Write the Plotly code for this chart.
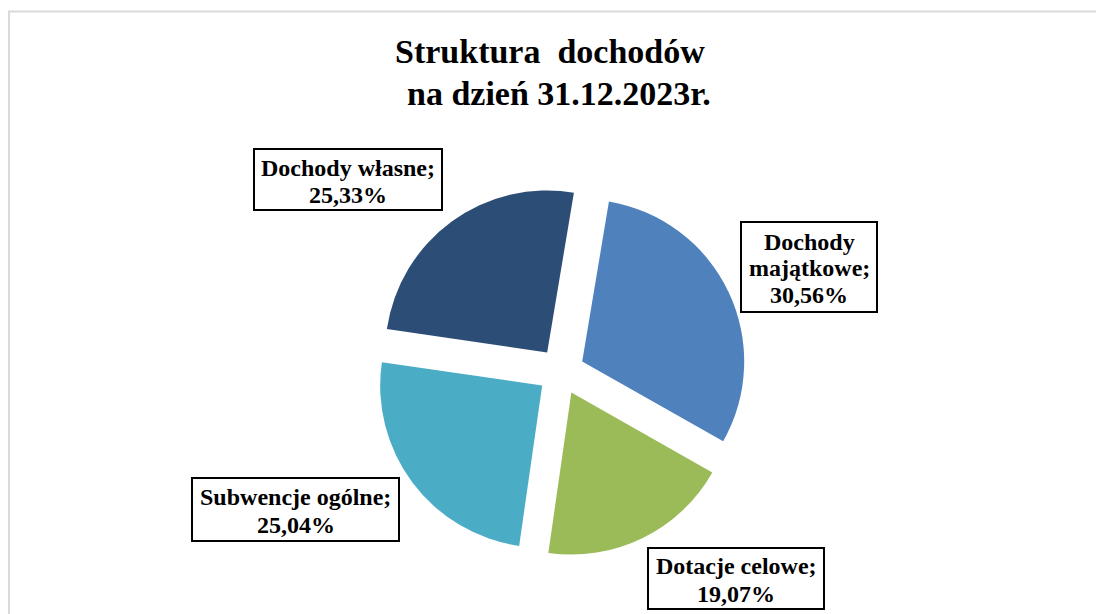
import plotly.graph_objects as go

# Data
categories = ["Dochody majątkowe", "Dotacje celowe", "Subwencje ogólne", "Dochody własne"]
label_lines = [["Dochody", "majątkowe;"], ["Dotacje celowe;"], ["Subwencje ogólne;"], ["Dochody własne;"]]
values = [30.56, 19.07, 25.04, 25.33]
colors = ["#4F81BD", "#9BBB59", "#4BACC6", "#2C4D75"]
title_lines = ["Struktura\u00a0 dochodów", "na dzień 31.12.2023r."]

# Page offset (body margin) and figure size
OFF = 8
W, H = 1096, 606


def px(x):
    return (x - OFF) / W


def py(y):
    return 1 - (y - OFF) / H


def center_from_baseline(b, fs):
    return b - 0.3375 * fs


# Pie geometry (page pixels)
cx, cy, R, pull = 561, 371.5, 162, 0.145
half = R * (1 + pull)

fig = go.Figure()
fig.add_trace(go.Pie(
    labels=categories,
    values=values,
    sort=False,
    direction="clockwise",
    rotation=9.5,
    pull=[pull] * len(values),
    marker=dict(colors=colors, line=dict(width=0)),
    textinfo="none",
    hoverinfo="label+percent",
    showlegend=False,
    domain=dict(x=[px(cx - half), px(cx + half)], y=[py(cy + half), py(cy - half)]),
))

# Label boxes: (x0, y0, x1, y1) outer edges, first baseline, line spacing (page px)
boxes = [
    (740, 221, 878, 313, 250, 26.5),
    (647, 547, 825, 610, 574.3, 27.4),
    (191, 477, 400, 542, 505, 27.7),
    (253, 148, 443, 211, 176, 27.0),
]
LFS = 24
annotations = []
shapes = []
for lines, v, (x0, y0, x1, y1, b0, sp) in zip(label_lines, values, boxes):
    shapes.append(dict(type="rect", xref="paper", yref="paper",
                       x0=px(x0 + 1), x1=px(x1 - 1), y0=py(y0 + 1), y1=py(y1 - 1),
                       line=dict(color="black", width=2), fillcolor="white", layer="above"))
    all_lines = lines + [f"{v:.2f}".replace(".", ",") + "%"]
    xc = (x0 + x1) / 2
    for i, t in enumerate(all_lines):
        annotations.append(dict(
            x=px(xc), y=py(center_from_baseline(b0 + i * sp, LFS)),
            xref="paper", yref="paper", xanchor="center", yanchor="middle",
            text=t, showarrow=False,
            font=dict(family="Liberation Serif", size=LFS, color="black", weight="bold"),
        ))

# Title lines
TFS = 34
for line, (tx, tb) in zip(title_lines, [(549.5, 63), (559, 105)]):
    annotations.append(dict(
        x=px(tx), y=py(center_from_baseline(tb, TFS)), xref="paper", yref="paper",
        xanchor="center", yanchor="middle", showarrow=False,
        text=line,
        font=dict(family="Liberation Serif", size=TFS, color="black", weight="bold"),
    ))

# Light grey frame (top and left edges)
shapes += [
    dict(type="line", xref="paper", yref="paper", x0=px(8), x1=1.02, y0=py(11.5), y1=py(11.5),
         line=dict(color="#D9D9D9", width=2)),
    dict(type="line", xref="paper", yref="paper", x0=px(9), x1=px(9), y0=py(11), y1=-0.02,
         line=dict(color="#D9D9D9", width=2)),
]

fig.update_layout(
    width=W, height=H,
    margin=dict(l=0, r=0, t=0, b=0),
    paper_bgcolor="white", plot_bgcolor="white",
    annotations=annotations, shapes=shapes,
)

fig.write_html("out.html")
